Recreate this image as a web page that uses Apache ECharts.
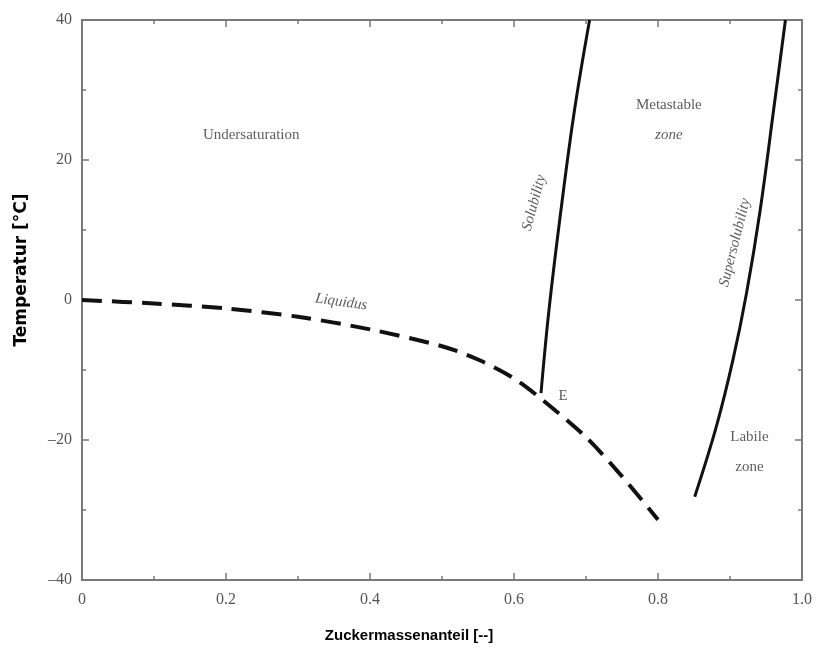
<!DOCTYPE html>
<html>
<head>
<meta charset="utf-8">
<script src="https://cdn.jsdelivr.net/npm/echarts@6/dist/echarts.min.js"></script>
<style>
  html, body { margin: 0; padding: 0; background: #fff; }
  #chart { width: 822px; height: 661px; }
</style>
</head>
<body>
<div id="chart"></div>
<script>
// Sugar/water phase diagram: liquidus, solubility and supersolubility curves
const xTicks = [0, 0.2, 0.4, 0.6, 0.8, 1.0];
const yTicks = [-40, -20, 0, 20, 40];

// Liquidus (ice line), mass fraction vs temperature
const liquidusX = [0, 0.1, 0.2, 0.3, 0.4, 0.5, 0.55, 0.6, 0.64, 0.7, 0.75, 0.8];
const liquidusT = [0, -0.5, -1.2, -2.4, -4.2, -6.6, -8.5, -11.2, -14.3, -19.6, -25.2, -31.4];

// Solubility curve, from the eutectic point E upwards
const solubilityX = [0.6375, 0.6486, 0.6653, 0.684, 0.705];
const solubilityT = [-13.3, -1.4, 12.9, 27.1, 40];

// Supersolubility curve
const superX = [0.851, 0.881, 0.904, 0.923, 0.942, 0.9605, 0.977];
const superT = [-28.1, -18.1, -8.6, 1.0, 12.9, 27.1, 40];

// Region and curve annotations
const noteText = ['Undersaturation', 'Metastable', 'zone', 'Liquidus', 'Solubility', 'Supersolubility', 'E', 'Labile', 'zone'];
const noteX    = [0.235, 0.815, 0.815, 0.36, 0.628, 0.907, 0.668, 0.927, 0.927];
const noteY    = [23.6, 27.9, 23.6, -0.3, 13.9, 8.2, -13.7, -19.6, -23.9];
const noteRot  = [0, 0, 0, -8, 75, 76, 0, 0, 0];
const noteItal = [false, false, true, true, true, true, false, false, false];

// Axis titles
const xTitle = 'Zuckermassenanteil [--]';
const yTitle = 'Temperatur [°C]';

const pairs = (xs, ys) => xs.map((x, i) => [x, ys[i]]);

const serif = '"Liberation Serif", "DejaVu Serif", serif';
const axisGrey = '#7a7a7a';

const chart = echarts.init(document.getElementById('chart'));

function frameAxis(extra) {
  return Object.assign({
    type: 'value',
    axisLine: { show: true, onZero: false, lineStyle: { color: axisGrey, width: 2 } },
    axisTick: { show: true, inside: true, length: 7, lineStyle: { color: axisGrey, width: 1.5 } },
    minorTick: { show: true, splitNumber: 2, length: 4, lineStyle: { color: axisGrey, width: 1.5 } },
    splitLine: { show: false },
    minorSplitLine: { show: false }
  }, extra);
}

const minusFmt = v => (v < 0 ? '\u2013' + Math.abs(v) : String(v));

chart.setOption({
  animation: false,
  backgroundColor: '#fff',
  grid: { left: 82, right: 20, top: 20, bottom: 81 },
  graphic: [
    {
      type: 'text', x: 409, y: 636,
      style: {
        text: xTitle, align: 'center', verticalAlign: 'middle',
        font: 'bold 15px "Liberation Sans", Arial, sans-serif', fill: '#000'
      }
    },
    {
      type: 'text', x: 22, y: 270, rotation: Math.PI / 2,
      style: {
        text: yTitle, align: 'center', verticalAlign: 'middle',
        font: 'bold 17px "DejaVu Sans", sans-serif', fill: '#000'
      }
    }
  ],
  xAxis: [
    frameAxis({
      min: xTicks[0], max: xTicks[xTicks.length - 1], interval: 0.2,
      position: 'bottom',
      axisLabel: {
        margin: 12, fontFamily: serif, fontSize: 16, color: '#555',
        formatter: v => (v === 0 ? '0' : v.toFixed(1))
      }
    }),
    frameAxis({
      min: xTicks[0], max: xTicks[xTicks.length - 1], interval: 0.2,
      position: 'top', axisLabel: { show: false }
    })
  ],
  yAxis: [
    frameAxis({
      min: yTicks[0], max: yTicks[yTicks.length - 1], interval: 20,
      position: 'left',
      axisLabel: { margin: 10, fontFamily: serif, fontSize: 16, color: '#555', formatter: minusFmt }
    }),
    frameAxis({
      min: yTicks[0], max: yTicks[yTicks.length - 1], interval: 20,
      position: 'right', axisLabel: { show: false }
    })
  ],
  series: [
    {
      name: 'Liquidus', type: 'line', smooth: 0.3, showSymbol: false,
      data: pairs(liquidusX, liquidusT),
      lineStyle: { color: '#111', width: 4, type: [20, 10] }
    },
    {
      name: 'Solubility', type: 'line', smooth: 0.4, showSymbol: false,
      data: pairs(solubilityX, solubilityT),
      lineStyle: { color: '#111', width: 3 }
    },
    {
      name: 'Supersolubility', type: 'line', smooth: 0.4, showSymbol: false,
      data: pairs(superX, superT),
      lineStyle: { color: '#111', width: 3 }
    },
    {
      name: 'Notes', type: 'scatter', symbolSize: 0, silent: true,
      data: noteText.map((t, i) => ({
        value: [noteX[i], noteY[i]],
        label: {
          show: true, position: 'inside', formatter: t,
          rotate: noteRot[i],
          fontStyle: noteItal[i] ? 'italic' : 'normal',
          fontFamily: serif, fontSize: 15, color: '#333'
        }
      }))
    }
  ]
});
</script>
</body>
</html>
